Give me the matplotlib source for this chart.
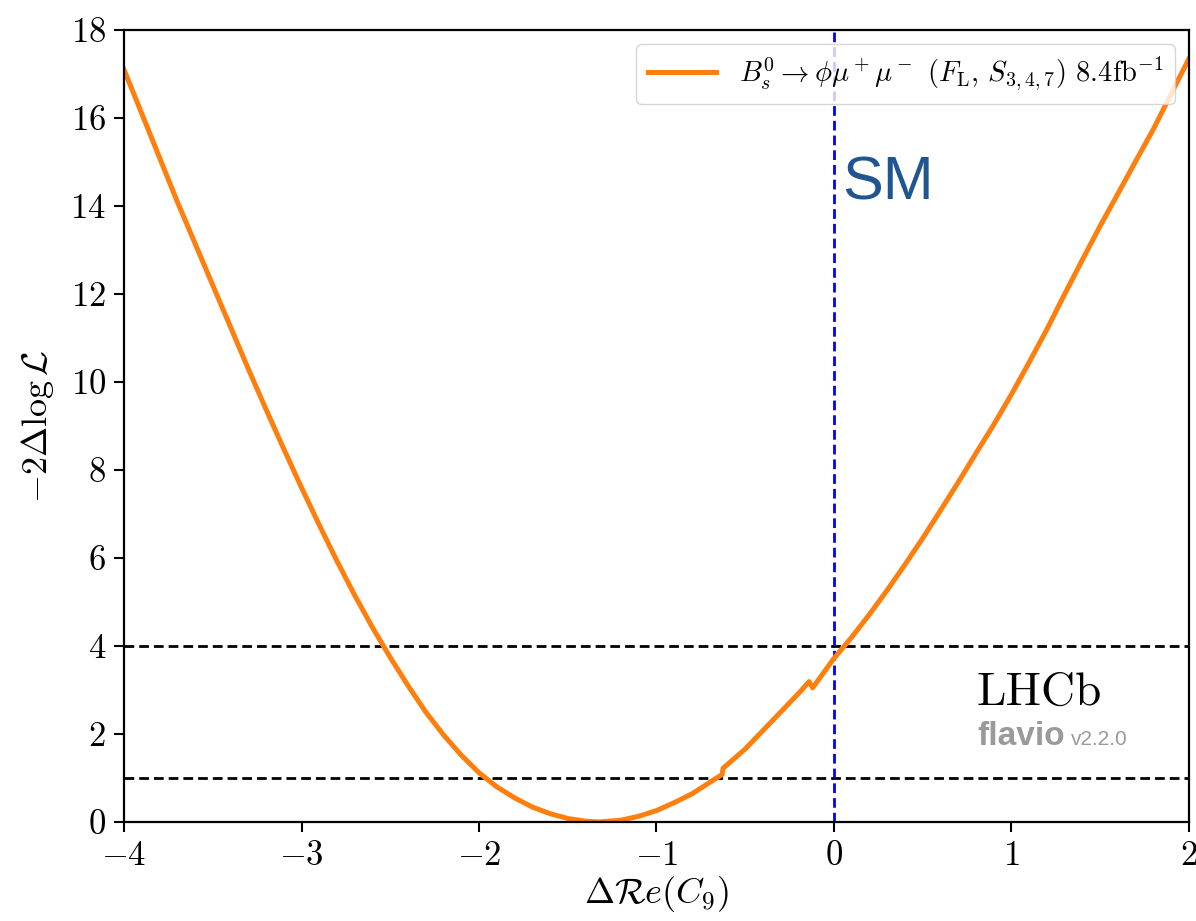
import matplotlib
matplotlib.use('Agg')
import matplotlib.pyplot as plt
import numpy as np

plt.rcParams['font.family'] = 'serif'
plt.rcParams['font.serif'] = ['cmr10']
plt.rcParams['mathtext.fontset'] = 'cm'
plt.rcParams['axes.formatter.use_mathtext'] = True

# -2 Delta log L scan in Delta Re(C9)
c9 = [-4.0, -3.9, -3.8, -3.7, -3.6, -3.5, -3.4, -3.3, -3.2, -3.1,
      -3.0, -2.9, -2.8, -2.7, -2.6, -2.5, -2.4, -2.3, -2.2, -2.1,
      -2.0, -1.9, -1.8, -1.7, -1.6, -1.5, -1.4, -1.33, -1.2, -1.1,
      -1.0, -0.9, -0.8, -0.7, -0.63, -0.625, -0.5, -0.4, -0.3, -0.2,
      -0.14, -0.12, -0.05, 0.0, 0.1, 0.2, 0.3, 0.4, 0.5, 0.6,
      0.7, 0.8, 0.9, 1.0, 1.1, 1.2, 1.3, 1.4, 1.5, 1.6,
      1.7, 1.8, 1.9, 2.0]
chi2 = [17.1, 16.1, 15.1, 14.1, 13.15, 12.2, 11.25, 10.3, 9.38, 8.48,
        7.6, 6.75, 5.93, 5.15, 4.42, 3.74, 3.1, 2.5, 1.98, 1.52,
        1.12, 0.8, 0.55, 0.34, 0.19, 0.08, 0.02, 0.0, 0.04, 0.13,
        0.26, 0.44, 0.64, 0.9, 1.08, 1.22, 1.66, 2.08, 2.5, 2.92,
        3.19, 3.05, 3.44, 3.72, 4.2, 4.72, 5.27, 5.85, 6.45, 7.08,
        7.72, 8.38, 9.03, 9.72, 10.45, 11.2, 12.0, 12.78, 13.55, 14.28,
        15.02, 15.75, 16.55, 17.35]

sigma_levels = [1, 4]
sm_point = 0
label = r'$B_s^0\to\phi\mu^+\mu^-$ $(F_{\rm L},\, S_{3,4,7})$ $8.4{\rm fb}^{-1}$'

fig = plt.figure(figsize=(11.96, 9.21), dpi=100)
ax = fig.add_axes([0.1037, 0.1075, 0.8904, 0.8599])

for lev in sigma_levels:
    ax.axhline(lev, color='black', lw=2, dashes=(3.5, 1.8))
ax.axvline(sm_point, color='blue', lw=2, dashes=(3.5, 1.8))

ax.plot(c9, chi2, color='#ff7f0e', lw=3.6, label=label)

ax.set_xlim(-4, 2)
ax.set_ylim(0, 18)
ax.set_xticks([-4, -3, -2, -1, 0, 1, 2])
ax.set_yticks(np.arange(0, 19, 2))
ax.tick_params(labelsize=25, length=7, width=1.5, pad=6)
for s in ax.spines.values():
    s.set_linewidth(1.6)

ax.set_xlabel(r'$\Delta\mathcal{R}e(C_9)$', fontsize=26, labelpad=2)
ax.set_ylabel(r'$-2\Delta\log\mathcal{L}$', fontsize=26, labelpad=10)

ax.text(0.045, 14.15, 'SM', color='#1f5591', fontsize=44,
        family='Liberation Sans')
ax.text(0.805, 2.66, 'LHCb', color='black', fontsize=34)
ax.text(0.81, 1.75, 'flavio', color='#9a9a9a', fontsize=24,
        family='Liberation Sans', fontweight='bold')
ax.text(1.335, 1.75, 'v2.2.0', color='#9a9a9a', fontsize=15,
        family='Liberation Sans')

leg = ax.legend(loc='upper right', fontsize=20.5, handlelength=2.4,
                framealpha=0.8, borderaxespad=0.5)

fig.savefig('out.png', dpi=100)
